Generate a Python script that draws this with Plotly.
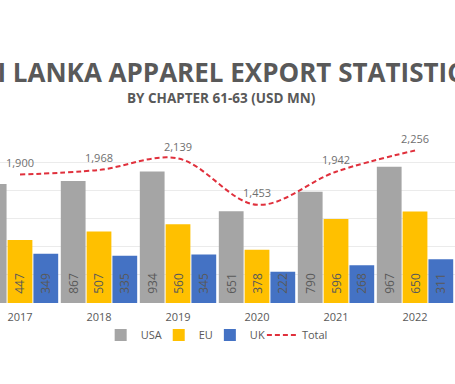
import plotly.graph_objects as go

years = ["2017", "2018", "2019", "2020", "2021", "2022"]
usa = [845, 867, 934, 651, 790, 967]
eu = [447, 507, 560, 378, 596, 650]
uk = [349, 335, 345, 222, 268, 311]
total = [1900, 1968, 2139, 1453, 1942, 2256]

FONT = "Open Sans"
TXT = "#595959"
W, H = 455, 384
T, B = 134, 81
PH = H - T - B

fig = go.Figure()
for name, vals, col in [("USA", usa, "#a5a5a5"), ("EU", eu, "#ffc000"), ("UK", uk, "#4472c4")]:
    fig.add_trace(go.Bar(
        x=years, y=vals, name=name, marker=dict(color=col, line=dict(width=0)),
        text=["\u00a0\u00a0" + str(v) for v in vals], textposition="inside",
        insidetextanchor="start", textangle=-90,
        textfont=dict(color=TXT, size=12, family=FONT),
        constraintext="none",
    ))

fig.add_trace(go.Scatter(
    x=years, y=total, name="Total", yaxis="y2", mode="lines+markers+text",
    line=dict(color="#e0303c", width=2, dash="5px,3px", shape="spline"),
    marker=dict(size=6, color="rgba(0,0,0,0)"),
    text=[f"{v:,}" for v in total], textposition="top center",
    textfont=dict(color="#6f6f6f", size=11, family=FONT), cliponaxis=False,
))

def px2paper(px, py):
    return px / W, (H - B - py) / PH

tx, ty = px2paper(222, 72)
sx, sy = px2paper(221, 98)

fig.update_layout(
    width=W, height=H,
    margin=dict(l=0, r=0, t=T, b=B, autoexpand=False),
    paper_bgcolor="white", plot_bgcolor="white",
    font=dict(family=FONT, color=TXT, size=11),
    barmode="group", bargap=0.02, bargroupgap=0.04,
    xaxis=dict(type="category", range=[-0.253, 5.506], showgrid=False,
               showline=False, ticks="", ticklabelstandoff=6,
               tickfont=dict(size=11, color=TXT)),
    yaxis=dict(range=[0, 1200], dtick=200, showgrid=True, gridcolor="#ebebeb",
               gridwidth=1, showticklabels=False, zeroline=False),
    yaxis2=dict(range=[0, 2500], overlaying="y", visible=False),
    showlegend=True,
    legend=dict(orientation="h", x=0.485, xanchor="center", y=px2paper(0, 335)[1],
                yanchor="middle", font=dict(size=11, color=TXT), itemwidth=30,
                indentation=-8, traceorder="normal"),
    annotations=[
        dict(text="<b>SRI LANKA APPAREL EXPORT STATISTICS</b>", x=tx, y=ty,
             xref="paper", yref="paper", showarrow=False, xanchor="center", yanchor="middle",
             font=dict(size=26, color=TXT, family=FONT)),
        dict(text="<b>BY CHAPTER 61-63 (USD MN)</b>", x=sx, y=sy,
             xref="paper", yref="paper", showarrow=False, xanchor="center", yanchor="middle",
             font=dict(size=13.5, color=TXT, family=FONT)),
    ],
)

fig.write_html("out.html", config={"displayModeBar": False},
               post_script="document.body.style.margin='0';document.body.style.overflow='hidden';")
